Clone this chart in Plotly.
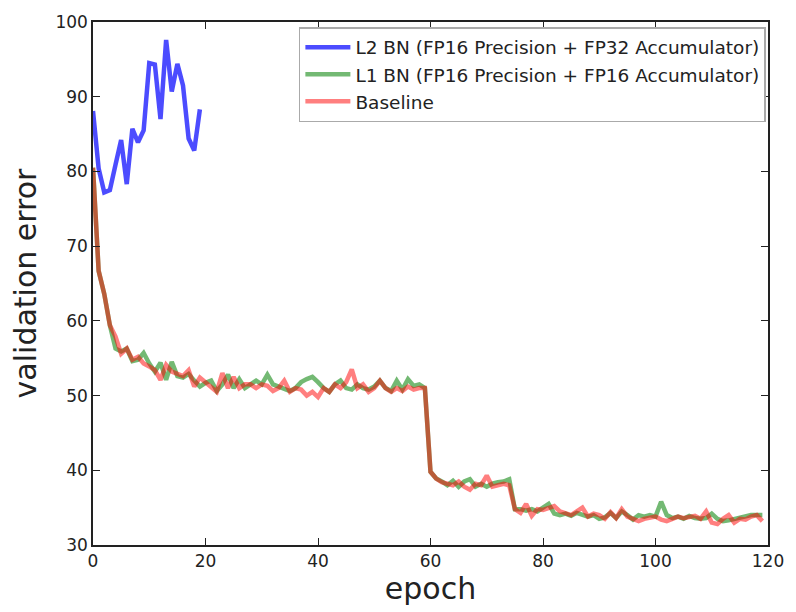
import plotly.graph_objects as go

epochs_l2 = list(range(20))
l2_bn = [88.1, 80.4, 77.2, 77.5, 80.9, 84.2, 78.3, 85.7, 83.9, 85.5,
         94.5, 94.3, 87.0, 97.6, 90.7, 94.4, 91.5, 84.4, 82.8, 88.3]

epochs = list(range(120))
l1_bn = [80.5, 66.7, 63.6, 59.4, 56.3, 55.9, 56.3, 54.6, 54.8, 55.7,
         54.3, 53.2, 54.4, 52.1, 54.5, 52.6, 52.4, 52.9, 52.0, 51.2,
         51.7, 52.0, 50.6, 51.5, 52.8, 51.0, 52.2, 51.0, 51.5, 52.0,
         51.5, 52.8, 51.5, 51.2, 51.0, 50.6, 51.0, 51.8, 52.2, 52.5,
         51.8, 51.0, 50.5, 51.5, 52.0, 51.0, 50.8, 51.5, 51.0, 50.8,
         51.2, 52.0, 51.0, 50.6, 52.0, 50.8, 52.2, 51.3, 51.5, 51.0,
         39.8, 38.9, 38.5, 38.0, 38.6, 37.8, 38.5, 38.8, 37.8, 38.2,
         37.8, 38.2, 38.4, 38.5, 38.8, 34.8, 34.8, 34.6, 34.8, 34.5,
         35.0, 35.5, 34.2, 34.0, 34.2, 33.9, 34.3, 34.0, 33.8, 34.0,
         33.5, 33.7, 34.3, 33.6, 34.5, 34.0, 33.4, 34.0, 33.8, 34.0,
         33.8, 35.8, 34.0, 33.6, 33.8, 33.5, 33.9, 33.6, 33.5, 33.6,
         34.2, 33.5, 33.2, 33.3, 33.5, 33.6, 33.8, 34.0, 34.0, 34.0]
baseline = [80.5, 66.7, 63.6, 59.4, 57.9, 55.6, 56.3, 54.8, 55.2, 54.3,
            53.9, 53.4, 52.1, 54.1, 53.2, 52.9, 52.6, 53.4, 51.2, 52.4,
            51.7, 51.0, 50.5, 53.0, 51.0, 52.5, 51.0, 51.5, 51.5, 51.0,
            51.5, 51.3, 50.6, 51.0, 52.0, 50.5, 51.0, 50.8, 50.0, 50.5,
            49.8, 51.0, 50.5, 51.5, 51.0, 51.8, 53.5, 51.0, 51.5, 50.5,
            51.0, 52.0, 51.0, 50.5, 51.0, 50.6, 51.2, 50.8, 51.0, 51.0,
            39.8, 38.9, 38.4, 38.2, 38.0, 38.5, 37.8, 37.4, 38.2, 38.0,
            39.3, 37.8, 38.0, 38.2, 38.0, 34.8, 34.3, 35.5, 33.9, 34.8,
            34.7, 35.0, 35.2, 34.5, 34.3, 34.0, 34.5, 35.0, 33.8, 34.2,
            34.0, 33.5, 34.4, 33.6, 34.8, 33.8, 33.5, 33.2, 33.5, 33.6,
            33.8, 33.4, 33.2, 33.5, 33.8, 33.6, 33.7, 33.9, 33.5, 34.5,
            33.0, 32.8, 33.5, 34.0, 33.0, 33.5, 33.4, 33.8, 34.0, 33.2]

x_ticks = [0, 20, 40, 60, 80, 100, 120]
y_ticks = [30, 40, 50, 60, 70, 80, 90, 100]

font = "DejaVu Sans, sans-serif"

fig = go.Figure()
fig.add_trace(go.Scatter(x=epochs_l2, y=l2_bn, mode="lines",
                         name="L2 BN (FP16 Precision + FP32 Accumulator)",
                         line=dict(color="rgba(0,0,255,0.7)", width=4.5)))
fig.add_trace(go.Scatter(x=epochs, y=l1_bn, mode="lines",
                         name="L1 BN (FP16 Precision + FP16 Accumulator)",
                         line=dict(color="rgba(0,128,0,0.55)", width=4.5)))
fig.add_trace(go.Scatter(x=epochs, y=baseline, mode="lines",
                         name="Baseline",
                         line=dict(color="rgba(255,0,0,0.5)", width=4.5)))

axis_common = dict(showgrid=False, zeroline=False, showline=True,
                   linecolor="#222", linewidth=1.5, mirror="allticks",
                   ticks="inside", ticklen=7, tickcolor="#222",
                   tickfont=dict(family=font, size=17, color="#222"))

fig.update_layout(
    width=796, height=612,
    margin=dict(l=93, r=17, t=18, b=65),
    paper_bgcolor="white", plot_bgcolor="white",
    xaxis=dict(range=[0, 120], tickvals=x_ticks,
               title=dict(text="epoch", font=dict(family=font, size=30, color="#222"),
                          standoff=8),
               **axis_common),
    yaxis=dict(range=[30, 100], tickvals=y_ticks,
               title=dict(text="validation error", font=dict(family=font, size=30, color="#222"),
                          standoff=10),
               **axis_common),
    legend=dict(x=0.305, y=0.99, xanchor="left", yanchor="top",
                bgcolor="white", bordercolor="#aaa", borderwidth=1.5,
                font=dict(family=font, size=18.5, color="#222"),
                itemwidth=45, tracegroupgap=0),
    showlegend=True,
)

fig.write_html("out.html")
